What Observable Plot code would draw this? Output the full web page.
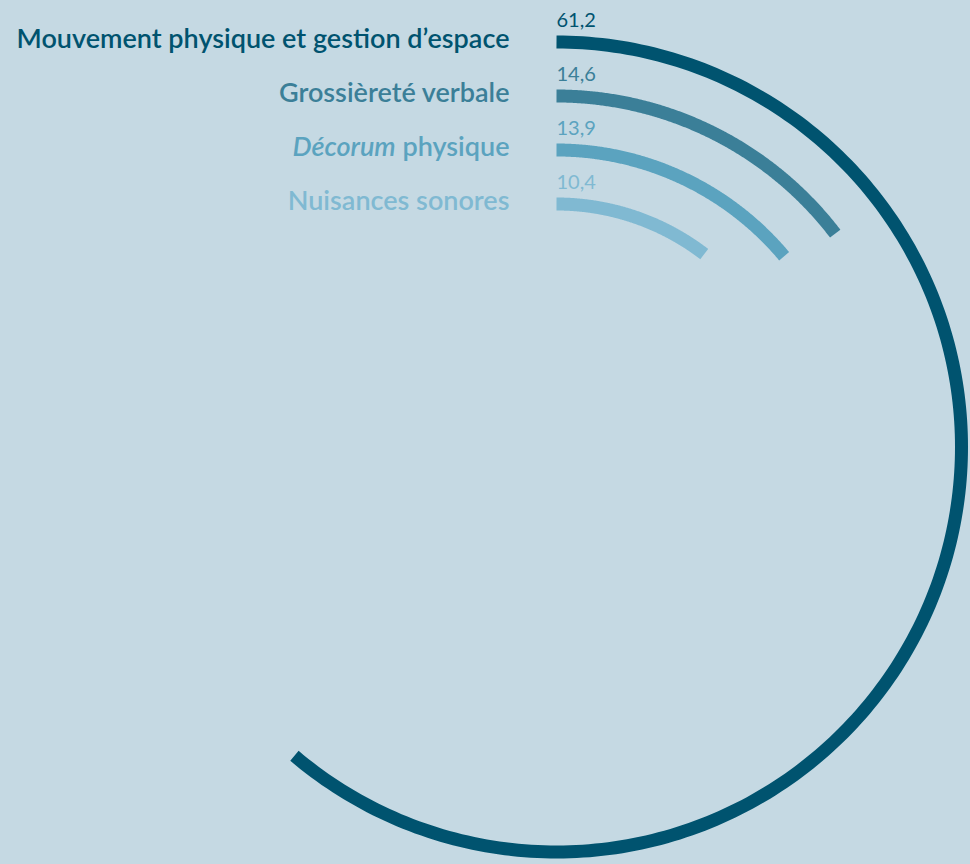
<!DOCTYPE html>
<html>
<head>
<meta charset="utf-8">
<script src="https://cdn.jsdelivr.net/npm/d3@7"></script>
<script src="https://cdn.jsdelivr.net/npm/@observablehq/plot@0.6"></script>
<style>
  html, body { margin: 0; padding: 0; background: #c5d9e3; }
  #chart svg { display: block; }
</style>
</head>
<body>
<div id="chart"></div>
<script>
// Data
const categories = [
  "Mouvement physique et gestion d’espace",
  "Grossièreté verbale",
  "Décorum physique",
  "Nuisances sonores"
];
const values = [61.2, 14.6, 13.9, 10.4];
const valueLabels = ["61,2", "14,6", "13,9", "10,4"];
const colors = ["#00536f", "#3b7f98", "#5ba3bf", "#80b9d2"];

// Layout constants
const W = 970, H = 864;
const cx = 556, cy = 446.5;
const outerR = 405, step = 54;

const rows = categories.map((c, i) => ({
  cat: c, value: values[i], label: valueLabels[i], color: colors[i], r: outerR - step * i
}));

// arc points derived from values (100 = full circle, clockwise from 12 o'clock)
const arcPts = rows.flatMap(d => {
  const n = 240;
  const end = d.value / 100 * 2 * Math.PI;
  return d3.range(n + 1).map(k => {
    const t = end * k / n;
    return {cat: d.cat, x: d.r * Math.sin(t), y: d.r * Math.cos(t)};
  });
});

const chart = Plot.plot({
  width: W, height: H,
  margin: 0,
  x: {domain: [-cx, W - cx], axis: null},
  y: {domain: [cy - H, cy], axis: null},
  color: {domain: categories, range: colors},
  style: {background: "#c5d9e3", fontFamily: "Lato, sans-serif"},
  marks: [
    Plot.line(arcPts, {x: "x", y: "y", z: "cat", stroke: "cat", strokeWidth: 13, strokeLinecap: "butt", curve: "linear"}),
    Plot.text(rows, {x: () => -47, y: "r", text: "cat", fill: "cat", textAnchor: "end", lineAnchor: "bottom", dy: 5.5, fontSize: 27, fontWeight: 600}),
    Plot.text(rows, {x: () => 0, y: "r", text: "label", fill: "cat", textAnchor: "start", lineAnchor: "bottom", dy: -15.5, fontSize: 20, fontWeight: 400})
  ]
});

d3.select(chart).selectAll("text").each(function() {
  const t = d3.select(this);
  if (t.text() === "Décorum physique") {
    t.text(null);
    t.append("tspan").attr("font-style", "italic").text("Décorum");
    t.append("tspan").text(" physique");
  }
});

document.getElementById("chart").appendChild(chart);
</script>
</body>
</html>
